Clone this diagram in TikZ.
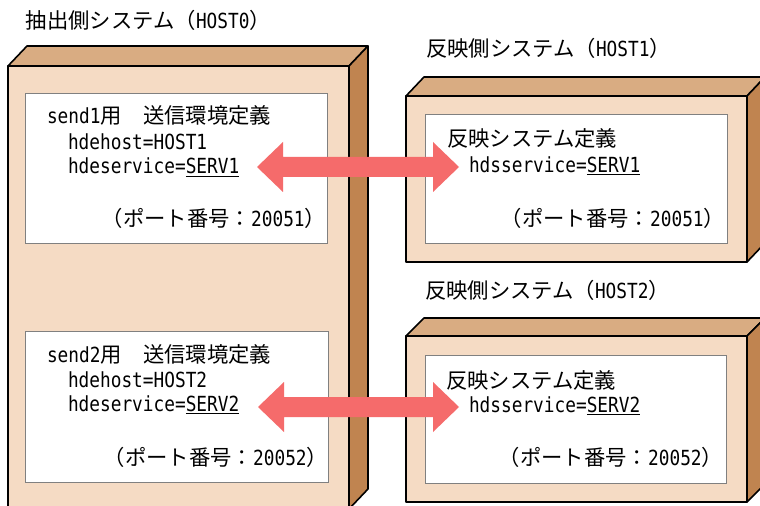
\documentclass[tikz,border=0pt]{standalone}
\usepackage{fontspec}
\setmainfont{Noto Sans CJK JP}
\newfontfamily\monof[FakeStretch=0.855]{DejaVu Sans Mono}
\usetikzlibrary{calc}
\definecolor{frontc}{RGB}{245,219,196}
\definecolor{topc}{RGB}{217,172,130}
\definecolor{sidec}{RGB}{192,132,80}
\definecolor{arrowc}{RGB}{245,107,107}
\definecolor{wbord}{RGB}{128,128,128}
\newcommand\mn[1]{{\monof\fontsize{15.6}{18}\selectfont #1}}
\newcommand\myul[1]{\underline{#1}}
\begin{document}
\begin{tikzpicture}[x=0.75pt,y=-0.75pt,
  txt/.style={inner sep=0pt, outer sep=0pt, font=\fontsize{16}{19}\selectfont},
  lt/.style={txt, anchor=base west},
  rt/.style={txt, anchor=base east},
  face/.style={draw=black, line width=1.2pt, line join=round},
  whitebox/.style={fill=white, draw=wbord, line width=0.6pt},
  bigarrow/.style={fill=arrowc, draw=none}]
\useasboundingbox (0,0) rectangle (760,506);
\fill[white] (0,0) rectangle (760,506);

% ---- HOST0 box ----
\filldraw[face, fill=frontc] (8,66) rectangle (349,509);
\filldraw[face, fill=topc] (8,66) -- (27,46) -- (368,46) -- (349,66) -- cycle;
\filldraw[face, fill=sidec] (349,66) -- (368,46) -- (368,489) -- (349,509) -- cycle;

% ---- HOST1 box ----
\filldraw[face, fill=frontc] (406,96) rectangle (747,262);
\filldraw[face, fill=topc] (406,96) -- (424,77) -- (765,77) -- (747,96) -- cycle;
\filldraw[face, fill=sidec] (747,96) -- (765,77) -- (765,243) -- (747,262) -- cycle;

% ---- HOST2 box ----
\filldraw[face, fill=frontc] (406,336) rectangle (747,502);
\filldraw[face, fill=topc] (406,336) -- (424,318) -- (765,318) -- (747,336) -- cycle;
\filldraw[face, fill=sidec] (747,336) -- (765,318) -- (765,484) -- (747,502) -- cycle;

% ---- inner white boxes ----
\draw[whitebox] (25,93) rectangle (327,243);
\draw[whitebox] (25,331) rectangle (328,482);
\draw[whitebox] (425,114) rectangle (727,243);
\draw[whitebox] (425,355) rectangle (726,483);

% ---- titles ----
\node[lt] (t0) at (26,29) {抽出側システム（\mn{HOST0}）};
\node[lt] (t1) at (426,57) {反映側システム（\mn{HOST1}）};
\node[lt] (t2) at (425,298) {反映側システム（\mn{HOST2}）};

% ---- left upper ----
\node[lt] (s1a) at (47,124) {\mn{send1}用　送信環境定義};
\node[lt] (s1b) at (68,150) {\mn{hdehost=HOST1}};
\node[lt] (s1c) at (68,174) {\mn{hdeservice=\myul{SERV1}}};
\node[rt] (s1d) at (326,226) {（ポート番号：\mn{20051}）};

% ---- right upper ----
\node[lt] (r1a) at (447,147) {反映システム定義};
\node[lt] (r1b) at (469,172) {\mn{hdsservice=\myul{SERV1}}};
\node[rt] (r1d) at (725,226) {（ポート番号：\mn{20051}）};

% ---- left lower ----
\node[lt] (s2a) at (47,362) {\mn{send2}用　送信環境定義};
\node[lt] (s2b) at (68,387) {\mn{hdehost=HOST2}};
\node[lt] (s2c) at (68,411) {\mn{hdeservice=\myul{SERV2}}};
\node[rt] (s2d) at (328,465) {（ポート番号：\mn{20052}）};

% ---- right lower ----
\node[lt] (r2a) at (446,388) {反映システム定義};
\node[lt] (r2b) at (469,412) {\mn{hdsservice=\myul{SERV2}}};
\node[rt] (r2d) at (723,465) {（ポート番号：\mn{20052}）};

% ---- double arrows ----
\coordinate (a1l) at (257,167);
\coordinate (a1r) at (459,167);
\coordinate (a2l) at (258,407);
\coordinate (a2r) at (459,407);
\fill[bigarrow] (a1l) -- ++(26,-25) -- ++(0,15) -- ($(a1r)+(-26,-10)$) -- ++(0,-15)
  -- (a1r) -- ++(-26,25) -- ++(0,-15) -- ($(a1l)+(26,10)$) -- ++(0,15) -- cycle;
\fill[bigarrow] (a2l) -- ++(26,-25) -- ++(0,15) -- ($(a2r)+(-26,-10)$) -- ++(0,-15)
  -- (a2r) -- ++(-26,25) -- ++(0,-15) -- ($(a2l)+(26,10)$) -- ++(0,15) -- cycle;
\end{tikzpicture}
\end{document}
